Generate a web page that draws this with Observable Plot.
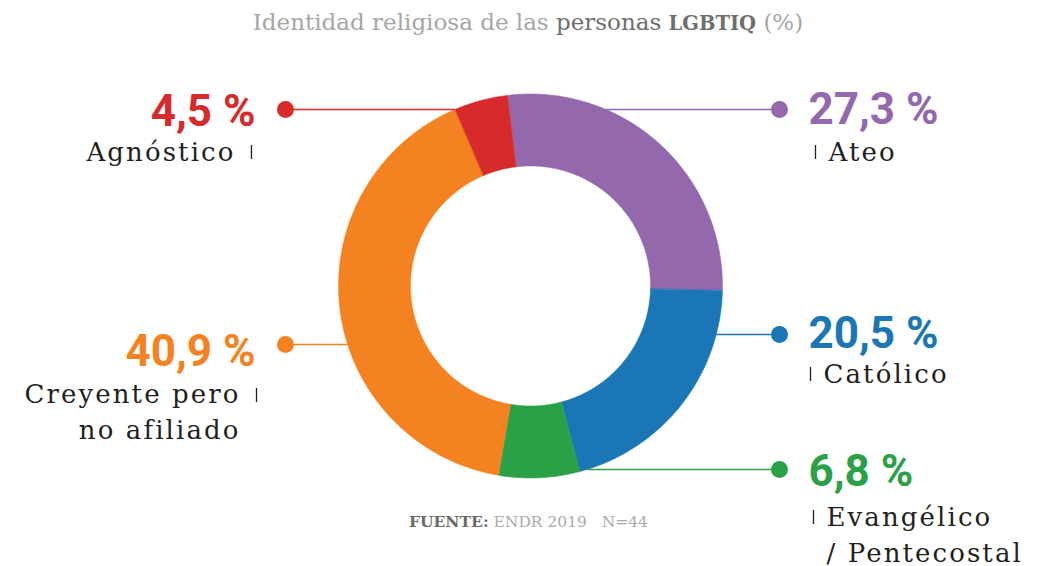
<!DOCTYPE html>
<html>
<head>
<meta charset="utf-8">
<script src="https://cdn.jsdelivr.net/npm/d3@7"></script>
<script src="https://cdn.jsdelivr.net/npm/@observablehq/plot@0.6"></script>
<style>
  body { margin: 0; background: #fff; }
  #wrap { position: relative; width: 1049px; height: 566px; overflow: hidden; }
  #title { position: absolute; top: 9px; left: 0; width: 1056px; text-align: center;
           font-family: "DejaVu Serif"; font-size: 23px; color: #a6a6a6; white-space: nowrap; }
  #title .d { color: #6e6e6e; }
  #title .b { color: #6e6e6e; font-weight: bold; font-size: 19.5px; }
  #foot { position: absolute; top: 512px; left: 0; width: 1057px; text-align: center;
          font-family: "DejaVu Serif"; font-size: 15.5px; color: #ababab; white-space: pre; }
  #foot b { color: #6a6a6a; }
</style>
</head>
<body>
<div id="wrap">
  <div id="chart"></div>
  <div id="title">Identidad religiosa de las <span class="d">personas</span> <span class="b">LGBTIQ</span> (%)</div>
  <div id="foot"><b>FUENTE:</b> ENDR 2019   N=44</div>
</div>
<script>
// ---- data (clockwise from the top) ----
const categories = ["Ateo", "Católico", "Evangélico / Pentecostal", "Creyente pero no afiliado", "Agnóstico"];
const labelTexts = ["Ateo", "Católico", "Evangélico\n/ Pentecostal", "Creyente pero\nno afiliado", "Agnóstico"];
const values = [27.3, 20.5, 6.8, 40.9, 4.5];
const palette = ["#9468ad", "#1b76b5", "#2aa147", "#f58220", "#d72a2b"];

// ---- layout (pixels) ----
const W = 1049, H = 566;
const CX = 530, CY = 285.5, R_OUT = 192, R_IN = 120, START_DEG = -6.9;
// side, dot y, percent baseline, label last-line baseline, label first-line baseline, bar x
const layout = [
  {side: "right", dotY: 109, pctY: 123, labY: 160, firstY: 160, barX: 815},
  {side: "right", dotY: 334, pctY: 347, labY: 382, firstY: 382, barX: 810},
  {side: "right", dotY: 469, pctY: 485, labY: 561, firstY: 525, barX: 813},
  {side: "left",  dotY: 344, pctY: 365, labY: 438, firstY: 403, barX: 256},
  {side: "left",  dotY: 109, pctY: 125, labY: 160, firstY: 160, barX: 251}
];
const DOT_LEFT = 285, DOT_RIGHT = 779, PCT_LEFT = 255, PCT_RIGHT = 808;

// ---- slice geometry derived from the values ----
const total = d3.sum(values);
const slicePts = [];
let acc = 0;
categories.forEach((cat, i) => {
  const a0 = (START_DEG * Math.PI / 180) + acc / total * 2 * Math.PI;
  acc += values[i];
  const a1 = (START_DEG * Math.PI / 180) + acc / total * 2 * Math.PI;
  const n = Math.max(8, Math.ceil((a1 - a0) / 0.01));
  for (let k = 0; k <= n; k++) {
    const a = a0 + (a1 - a0) * k / n;
    slicePts.push({cat, x: CX + R_OUT * Math.sin(a), y: CY - R_OUT * Math.cos(a)});
  }
  for (let k = n; k >= 0; k--) {
    const a = a0 + (a1 - a0) * k / n;
    slicePts.push({cat, x: CX + R_IN * Math.sin(a), y: CY - R_IN * Math.cos(a)});
  }
});

const labels = categories.map((cat, i) => {
  const L = layout[i];
  const right = L.side === "right";
  const dx = Math.sqrt(Math.max(0, R_OUT * R_OUT - (L.dotY - CY) ** 2));
  return {
    cat, value: values[i], text: labelTexts[i], side: L.side,
    dotX: right ? DOT_RIGHT : DOT_LEFT, dotY: L.dotY,
    edgeX: right ? CX + dx : CX - dx,
    pctX: right ? PCT_RIGHT : PCT_LEFT, pctY: L.pctY,
    labX: right ? L.barX + 13 : L.barX - 16, labY: L.labY,
    barX: L.barX, barY1: L.firstY - 15, barY2: L.firstY - 1
  };
});
const fmt = v => v.toFixed(1).replace(".", ",") + " %";
const isR = d => d.side === "right";
const isL = d => d.side === "left";

const LABEL_FONT = "DejaVu Serif";
const plot = Plot.plot({
  width: W, height: H,
  margin: 0,
  x: {domain: [0, W], range: [0, W], axis: null},
  y: {domain: [0, H], range: [0, H], axis: null},
  color: {domain: categories, range: palette},
  marks: [
    Plot.line(slicePts, {x: "x", y: "y", z: "cat", fill: "cat", stroke: "cat", strokeWidth: 0.5, curve: "linear-closed"}),
    Plot.link(labels, {x1: "edgeX", y1: "dotY", x2: "dotX", y2: "dotY", stroke: "cat", strokeWidth: 1.5}),
    Plot.dot(labels, {x: "dotX", y: "dotY", r: 8.5, fill: "cat", stroke: null}),
    Plot.text(labels, {filter: isR, x: "pctX", y: "pctY", text: d => fmt(d.value), fill: "cat", textAnchor: "start", lineAnchor: "bottom", fontFamily: "Roboto", fontWeight: "bold", fontSize: 44}),
    Plot.text(labels, {filter: isL, x: "pctX", y: "pctY", text: d => fmt(d.value), fill: "cat", textAnchor: "end", lineAnchor: "bottom", fontFamily: "Roboto", fontWeight: "bold", fontSize: 44}),
    Plot.text(labels, {filter: isR, x: "labX", y: "labY", text: "text", fill: "#231f20", textAnchor: "start", lineAnchor: "bottom", lineHeight: 1.38, fontFamily: LABEL_FONT, fontSize: 26}),
    Plot.text(labels, {filter: isL, x: "labX", y: "labY", text: "text", fill: "#231f20", textAnchor: "end", lineAnchor: "bottom", lineHeight: 1.38, fontFamily: LABEL_FONT, fontSize: 26}),
    Plot.ruleX(labels, {x: "barX", y1: "barY1", y2: "barY2", stroke: "#231f20", strokeWidth: 1.3})
  ]
});
plot.querySelectorAll('g[font-family="' + LABEL_FONT + '"]').forEach(g => g.setAttribute("letter-spacing", "2.1"));
document.getElementById("chart").appendChild(plot);
</script>
</body>
</html>
